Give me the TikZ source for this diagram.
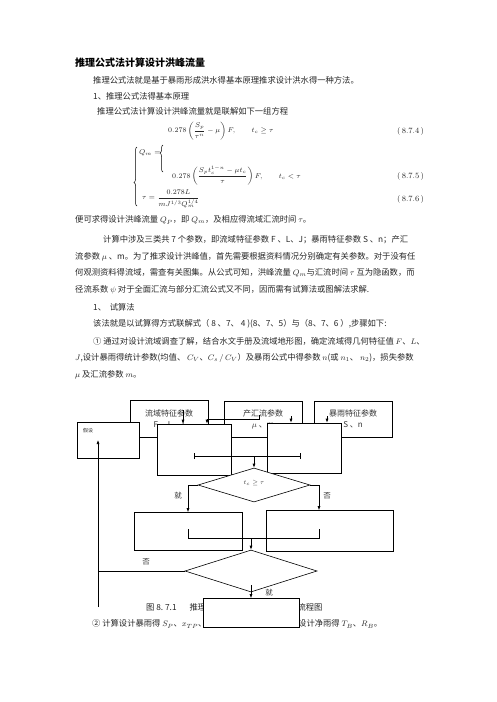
\documentclass[tikz,border=0pt]{standalone}
\usepackage{amsmath,amssymb}
\usepackage{fontspec}
\newfontfamily\cjk{Noto Sans CJK SC}
\XeTeXlinebreaklocale "zh"
\XeTeXlinebreakskip=0pt plus 1pt
\usetikzlibrary{shapes.geometric, arrows.meta, positioning, calc, decorations.pathreplacing}

\begin{document}
\begin{tikzpicture}[
    x=1pt, y=-1pt,
    zhengwen/.style={
        anchor=west,
        inner sep=0pt,
        text=black!85,
        font=\cjk\fontsize{8.3}{10}\selectfont
    },
    duanluo/.style={
        zhengwen,
        text width=360pt,
        align=justify
    },
    gongshi/.style={
        anchor=west,
        inner sep=0pt,
        text=black!85,
        font=\fontsize{7.5}{9}\selectfont
    },
    bianhao/.style={
        anchor=west,
        inner sep=0pt,
        text=black!85,
        font=\fontsize{8}{9}\selectfont
    },
    kuang/.style={
        draw=black,
        fill=white,
        line width=0.6pt,
        inner sep=1pt,
        text=black!80,
        font=\cjk\fontsize{8}{11}\selectfont,
        align=center
    },
    lingxing/.style={
        diamond,
        draw=black,
        fill=white,
        line width=0.6pt,
        inner sep=0pt,
        text=black!80,
        font=\fontsize{6}{7}\selectfont
    },
    jian/.style={
        -{Latex[length=4pt,width=3pt]},
        line width=0.6pt
    },
    xian/.style={
        line width=0.6pt
    },
    biaozhu/.style={
        inner sep=0pt,
        text=black!80,
        font=\cjk\fontsize{7.5}{9}\selectfont
    },
    kuohao/.style={
        decorate,
        decoration={brace, amplitude=3pt},
        line width=0.5pt
    }
]

\fill[white] (0,0) rectangle (496,702);
\useasboundingbox (0,0) rectangle (496,702);

% 标题与引言
\node (biaoti) [zhengwen, font=\cjk\bfseries\fontsize{10}{12}\selectfont, text=black] at (75,63)
    {推理公式法计算设计洪峰流量};
\node (yinyan) [zhengwen] at (93,80)
    {推理公式法就是基于暴雨形成洪水得基本原理推求设计洪水得一种方法。};
\node (yuanli) [zhengwen] at (93,96) {1、推理公式法得基本原理};
\node (fangcheng) [zhengwen] at (97,111) {推理公式法计算设计洪峰流量就是联解如下一组方程};

% 方程组
\node (gs1) [gongshi] at (168,131)
    {$\displaystyle 0.278\left(\frac{S_p}{\tau^n}-\mu\right)F,\qquad t_c\geq\tau$};
\node (qm) [gongshi] at (139,153) {$Q_m=$};
\node (gs2) [gongshi] at (172,176)
    {$\displaystyle 0.278\left(\frac{S_p t_c^{1-n}-\mu t_c}{\tau}\right)F,\qquad t_c<\tau$};
\node (gs3) [gongshi] at (142,199)
    {$\displaystyle \tau=\frac{0.278L}{mJ^{1/3}Q_m^{1/4}}$};
\node (bh1) [bianhao] at (397,131) {(\,8.7.4\,)};
\node (bh2) [bianhao] at (397,176) {(\,8.7.5\,)};
\node (bh3) [bianhao] at (397,199) {(\,8.7.6\,)};
\draw[kuohao, decoration={aspect=0.4}] (137,206) -- (137,147);
\draw[kuohao, decoration={aspect=0.7}] (163,172) -- (163,145);

% 正文
\node (qiude) [zhengwen] at (75,220)
    {便可求得设计洪峰流量 $Q_P$，即 $Q_m$，及相应得流域汇流时间 $\tau$。};
\node (duan1) [duanluo, text width=332pt] at (103,240)
    {\noindent\parfillskip=0pt 计算中涉及三类共 7 个参数，即流域特征参数 F 、L、J；暴雨特征参数 S 、n；产汇};
\node (duan2) [duanluo] at (75,257)
    {\noindent\parfillskip=0pt 流参数 $\mu$ 、m。为了推求设计洪峰值，首先需要根据资料情况分别确定有关参数。对于没有任};
\node (duan3) [duanluo] at (75,273)
    {\noindent\parfillskip=0pt 何观测资料得流域，需查有关图集。从公式可知，洪峰流量 $Q_m$与汇流时间 $\tau$ 互为隐函数，而};
\node (duan4) [zhengwen] at (75,290)
    {径流系数 $\psi$ 对于全面汇流与部分汇流公式又不同，因而需有试算法或图解法求解.};
\node (shisuan) [zhengwen] at (93,307) {1、\ \ 试算法};
\node (buzhou) [zhengwen] at (93,324)
    {该法就是以试算得方式联解式（ 8 、7、 4 )(8、7、5）与（8、7、6 ）,步骤如下:};
\node (bu1) [duanluo, text width=342pt] at (93,341)
    {\noindent\parfillskip=0pt ① 通过对设计流域调查了解，结合水文手册及流域地形图，确定流域得几何特征值 $F$、$L$、};
\node (bu1b) [duanluo] at (75,358)
    {\noindent\parfillskip=0pt $J$,设计暴雨得统计参数(均值、 $C_V$、$C_s\,/\,C_V$）及暴雨公式中得参数 $n$(或 $n_1$、 $n_2$)，损失参数};
\node (bu1c) [zhengwen] at (75,375) {$\mu$ 及汇流参数 $m$。};

% 图名与下文（部分被结果框遮住）
\node (tuming) [zhengwen] at (146,607) {图 8.\ 7.1\hspace{13pt}推理公式法计算设计洪峰流量流程图};
\node (bu2) [zhengwen] at (92,624) {② 计算设计暴雨得 $S_P$、$x_{TP}$、};
\node (bu2b) [zhengwen] at (298,624) {设计净雨得 $T_B$、$R_B$。};

% 参数框
\node (liuyu) [kuang, minimum width=78pt, minimum height=37pt] at (169,418.5) {流域特征参数\\F 、L、J};
\node (chanhui) [kuang, minimum width=78pt, minimum height=36pt] at (263,419) {产汇流参数\\$\mu$ 、m};
\node (baoyu) [kuang, minimum width=78pt, minimum height=36pt] at (353,419) {暴雨特征参数\\S 、n};

% 假设与计算框
\node (jiashe) [kuang, minimum width=62pt, minimum height=36pt] at (108,440) {};
\node (jiashewz) [biaozhu, anchor=west, font=\cjk\fontsize{5}{6}\selectfont] at (83,431) {假设};
\node (jisuan1) [kuang, minimum width=74pt, minimum height=51pt] at (194,449.5) {};
\node (jisuan2) [kuang, minimum width=74pt, minimum height=50pt] at (304,448) {};

% 判断与分支
\node (panduan1) [lingxing, minimum width=112pt, minimum height=34pt] at (254,485) {\raisebox{5pt}{$t_c\geq\tau$}};
\node (quanmian) [kuang, minimum width=108pt, minimum height=38pt] at (188,531.5) {};
\node (bufen) [kuang, minimum width=127pt, minimum height=41pt] at (330,531) {};
\node (panduan2) [lingxing, minimum width=132pt, minimum height=42pt] at (251,571) {};
\node (jieguo) [kuang, minimum width=96pt, minimum height=29pt] at (251,613) {};

% 参数输入箭头
\coordinate (a1) at (183,410);
\coordinate (a2) at (259,415);
\coordinate (b2) at (207,419);
\coordinate (a3) at (291,416);
\coordinate (a4) at (327,416);
\draw[jian] (a1) -- (a1 |- jisuan1.north);
\draw[jian] (a2) |- (b2) -- (b2 |- jisuan1.north);
\draw[jian] (a3) -- (a3 |- jisuan2.north);
\draw[jian] (a4) -- (a4 |- jisuan2.north);

% 汇合线
\coordinate (h1) at (194,456);
\coordinate (h2) at (301,456);
\draw[xian, {Bar[width=6pt]}-{Bar[width=6pt]}] (h1) -- (h2);
\draw[jian] (h1 -| panduan1.north) -- (panduan1.north);

\draw[jian] (panduan1.west) -| (quanmian.north);
\draw[jian] (panduan1.east) -| ([xshift=-11pt]bufen.north);
\node (jiu1) [biaozhu] at (178,496) {就};
\node (fou1) [biaozhu] at (327,496) {否};

\coordinate (h3) at (188,529);
\coordinate (h5) at (188,538);
\coordinate (h4) at (319,529);
\draw[xian] (h3) -- (h5) -| (h4);
\draw[jian] (h5 -| panduan2.north) -- (panduan2.north);

% 返回假设
\coordinate (fanhui) at (98,607);
\draw[jian] (fanhui) -- (fanhui |- jiashe.center);
\draw[xian] (panduan2.west) -- (panduan2.west -| fanhui);
\node (fou2) [biaozhu] at (146,562) {否};

\draw[jian] ([yshift=7pt]panduan2.south) -- (jieguo.north);
\node (jiu2) [biaozhu] at (269,593) {就};

\end{tikzpicture}
\end{document}
